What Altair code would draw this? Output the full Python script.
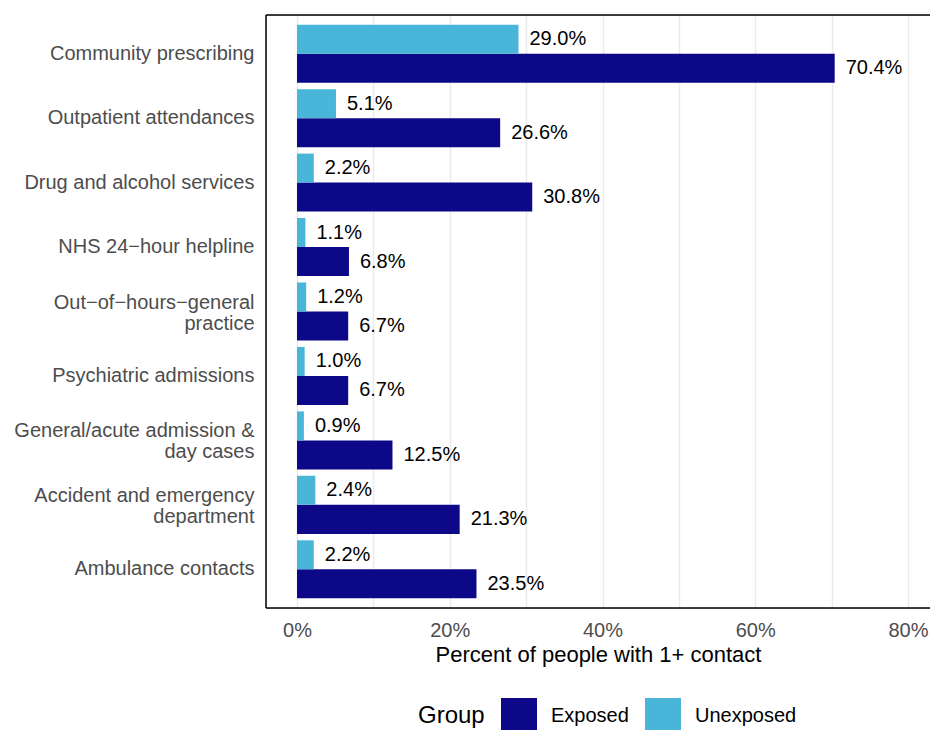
import altair as alt
import pandas as pd

categories = [
    "Community prescribing",
    "Outpatient attendances",
    "Drug and alcohol services",
    "NHS 24\u2212hour helpline",
    "Out\u2212of\u2212hours\u2212general|practice",
    "Psychiatric admissions",
    "General/acute admission &|day cases",
    "Accident and emergency|department",
    "Ambulance contacts",
]
exposed = [70.4, 26.6, 30.8, 6.8, 6.7, 6.7, 12.5, 21.3, 23.5]
unexposed = [29.0, 5.1, 2.2, 1.1, 1.2, 1.0, 0.9, 2.4, 2.2]
groups = ["Exposed", "Unexposed"]
colors = ["#0D0887", "#48B5D9"]
x_ticks = [0, 10, 20, 30, 40, 50, 60, 70, 80]

rows = []
for c, e, u in zip(categories, exposed, unexposed):
    rows.append({"cat": c, "group": "Exposed", "value": e, "label": f"{e:.1f}%"})
    rows.append({"cat": c, "group": "Unexposed", "value": u, "label": f"{u:.1f}%"})
df = pd.DataFrame(rows)

FONT = "Liberation Sans"
W, H = 664, 593

y_enc = alt.Y(
    "cat:N",
    sort=categories,
    title=None,
    scale=alt.Scale(paddingInner=0.1, paddingOuter=0.15),
    axis=alt.Axis(
        ticks=False,
        domain=False,
        grid=False,
        labelFontSize=20,
        labelColor="#4D4D4D",
        labelFont=FONT,
        labelPadding=12,
        labelLimit=400,
        labelLineHeight=21,
        labelOffset={"condition": {"test": "indexof(datum.value, '|') >= 0", "value": -9}, "value": 0},
        labelExpr="split(datum.label, '|')",
    ),
)
yoff = alt.YOffset("group:N", sort=["Unexposed", "Exposed"],
                   scale=alt.Scale(paddingInner=0, paddingOuter=0))
x_enc = alt.X(
    "value:Q",
    title="Percent of people with 1+ contact",
    scale=alt.Scale(domain=[-4.06, 82.88], nice=False, zero=False),
    axis=alt.Axis(
        values=x_ticks,
        ticks=False,
        domain=False,
        grid=True,
        gridColor="#EBEBEB",
        gridWidth=1.5,
        labelFontSize=20,
        labelColor="#4D4D4D",
        labelFont=FONT,
        labelPadding=12,
        labelExpr="datum.value % 20 == 0 ? datum.value + '%' : ''",
        titleFontSize=22,
        titleFont=FONT,
        titleFontWeight="normal",
        titleColor="black",
        titlePadding=4,
    ),
)

bars = alt.Chart(df).mark_bar(opacity=1).encode(
    y=y_enc,
    yOffset=yoff,
    x=x_enc,
    color=alt.Color(
        "group:N",
        scale=alt.Scale(domain=groups, range=colors),
        title="Group",
        legend=alt.Legend(
            orient="none",
            legendX=152,
            legendY=683,
            direction="horizontal",
            titleOrient="left",
            titleFontSize=24,
            titleFont=FONT,
            titleFontWeight="normal",
            titleColor="black",
            titlePadding=16,
            labelFontSize=20,
            labelFont=FONT,
            labelColor="black",
            labelOffset=14,
            columnPadding=16,
            symbolType="square",
            symbolSize=1296,
            symbolStrokeWidth=0,
            symbolOpacity=1,
        ),
    ),
)

texts = alt.Chart(df).mark_text(
    align="left", baseline="middle", dx=11, fontSize=20, font=FONT, color="black"
).encode(
    y=alt.Y("cat:N", sort=categories),
    yOffset=alt.YOffset("group:N", sort=["Unexposed", "Exposed"]),
    x=alt.X("value:Q"),
    text="label:N",
)

frame_df = pd.DataFrame({"k": [0]})
left_rule = alt.Chart(frame_df).mark_rule(color="black", strokeWidth=1.5).encode(
    x=alt.value(0), y=alt.value(0), y2=alt.value(H)
)
top_rule = alt.Chart(frame_df).mark_rule(color="black", strokeWidth=1.5).encode(
    x=alt.value(0), x2=alt.value(W), y=alt.value(0)
)
bottom_rule = alt.Chart(frame_df).mark_rule(color="black", strokeWidth=1.5).encode(
    x=alt.value(0), x2=alt.value(W), y=alt.value(H)
)

chart = (
    alt.layer(bars, texts, left_rule, top_rule, bottom_rule)
    .properties(
        width=W,
        height=H,
        autosize=alt.AutoSizeParams(type="none"),
        padding={"left": 258, "top": 7, "right": 0, "bottom": 122},
    )
    .configure_view(stroke=None)
    .configure(background="white")
)

chart.save("out.html", embed_options={"renderer": "svg", "actions": False})
